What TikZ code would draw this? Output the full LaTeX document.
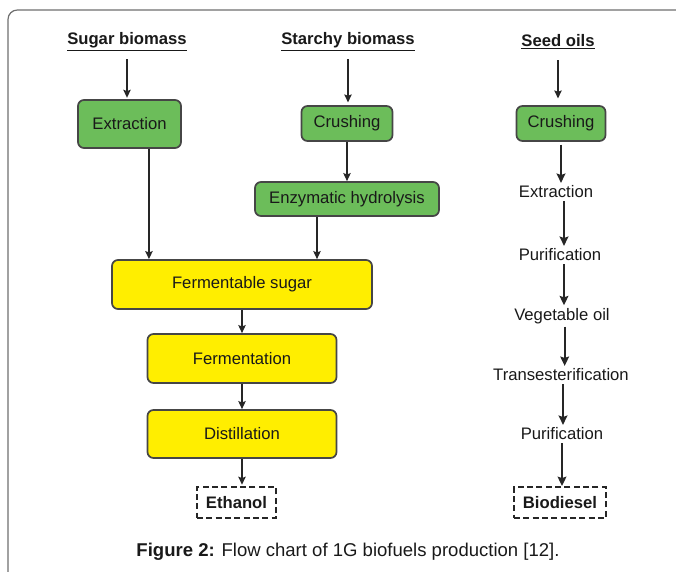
\documentclass[tikz,border=0pt]{standalone}
\usepackage{fontspec}
\setmainfont{Liberation Sans}
\usetikzlibrary{arrows.meta}
\definecolor{boxgreen}{RGB}{108,189,90}
\definecolor{boxyellow}{RGB}{255,238,0}
\definecolor{edgegray}{RGB}{70,70,70}
\definecolor{framegray}{RGB}{110,110,110}
\begin{document}
\begin{tikzpicture}[x=0.75pt,y=-0.75pt,
  every node/.style={font=\fontsize{12.5pt}{14pt}\selectfont, text=black!90},
  gbox/.style={draw=edgegray, line width=1.3pt, rounded corners=4.5pt, fill=boxgreen, inner sep=0pt},
  ybox/.style={draw=edgegray, line width=1.3pt, rounded corners=4.5pt, fill=boxyellow, inner sep=0pt},
  dbox/.style={draw=black!85, line width=1.4pt, dash pattern=on 4.5pt off 2.5pt, inner sep=0pt, font=\fontsize{12.5pt}{14pt}\selectfont\bfseries},
  head/.style={font=\fontsize{12.5pt}{14pt}\selectfont\bfseries, inner sep=1pt},
  lbl/.style={inner sep=2pt},
  arr/.style={draw=black!85, line width=1.2pt, -{Stealth[length=6pt,width=5.5pt,inset=1pt]}},
  arrb/.style={draw=black!85, line width=1.5pt, -{Stealth[length=7pt,width=6.5pt,inset=1pt]}}
]
\useasboundingbox (0,0) rectangle (676,572);
\draw[framegray, line width=0.9pt, rounded corners=7pt] (8,590) -- (8,10) -- (690,10);

% headers
\node[head] (hs) at (127,42) {\underline{Sugar biomass}};
\node[head] (hst) at (348,42) {\underline{Starchy biomass}};
\node[head] (hse) at (558,42) {\underline{Seed oils}};

% sugar / starch branch
\node[gbox, minimum width=103*0.75pt, minimum height=48*0.75pt] (ext1) at (129.5,124) {Extraction};
\node[gbox, minimum width=91*0.75pt, minimum height=35*0.75pt] (cr1) at (347,123.5) {Crushing};
\node[gbox, minimum width=184*0.75pt, minimum height=34*0.75pt] (enz) at (347,199) {Enzymatic hydrolysis};
\node[ybox, minimum width=260*0.75pt, minimum height=49*0.75pt] (ferm) at (242,284.5) {Fermentable sugar};
\node[ybox, minimum width=189*0.75pt, minimum height=49*0.75pt] (fermn) at (242,358.5) {Fermentation};
\node[ybox, minimum width=189*0.75pt, minimum height=48*0.75pt] (dist) at (242,434) {Distillation};
\node[dbox, minimum width=79*0.75pt, minimum height=31*0.75pt] (eth) at (236.5,502.5) {Ethanol};

% seed branch
\node[gbox, minimum width=89*0.75pt, minimum height=35*0.75pt] (cr2) at (561,123.5) {Crushing};
\node[lbl] (ext2) at (556,192) {Extraction};
\node[lbl] (pur1) at (560,255) {Purification};
\node[lbl] (veg) at (562,316) {Vegetable oil};
\node[lbl] (trans) at (561,375) {Transesterification};
\node[lbl] (pur2) at (562,434) {Purification};
\node[dbox, minimum width=92*0.75pt, minimum height=31*0.75pt] (bio) at (560,502.5) {Biodiesel};

% caption
\node[font=\fontsize{13.9pt}{16pt}\selectfont] (cap) at (348,552) {\textbf{Figure 2:} Flow chart of 1G biofuels production [12].};

% connectors
\draw[arr] ([yshift=-5pt]hs.south) -- ([yshift=1pt]hs.south |- ext1.north);
\draw[arr] ([yshift=-5pt]hst.south) -- ([yshift=2pt]hst.south |- cr1.north);
\draw[arr] ([yshift=-7pt]hse.south) -- ([yshift=5pt]hse.south |- cr2.north);
\draw[arr] (cr1.south) -- (enz.north);
\draw[arr] ([xshift=14.6pt]ext1.south) -- ([xshift=14.6pt]ext1.south |- ferm.north);
\draw[arr] ([xshift=-22.5pt]enz.south) -- ([xshift=-22.5pt]enz.south |- ferm.north);
\draw[arr] (ferm.south) -- (fermn.north);
\draw[arr] (fermn.south) -- (dist.north);
\draw[arr] (dist.south) -- ([yshift=1pt]dist.south |- eth.north);

\draw[arrb] ([yshift=-2pt]cr2.south) -- (cr2.south |- ext2.north);
\draw[arrb] ([xshift=6pt]ext2.south) -- ([xshift=6pt]ext2.south |- pur1.north);
\draw[arrb] ([xshift=3pt]pur1.south) -- ([xshift=3pt]pur1.south |- veg.north);
\draw[arrb] ([xshift=2pt]veg.south) -- ([xshift=2pt]veg.south |- trans.north);
\draw[arrb] ([xshift=1.5pt]trans.south) -- ([xshift=1.5pt]trans.south |- pur2.north);
\draw[arrb] (pur2.south) -- (pur2.south |- bio.north);
\end{tikzpicture}
\end{document}
